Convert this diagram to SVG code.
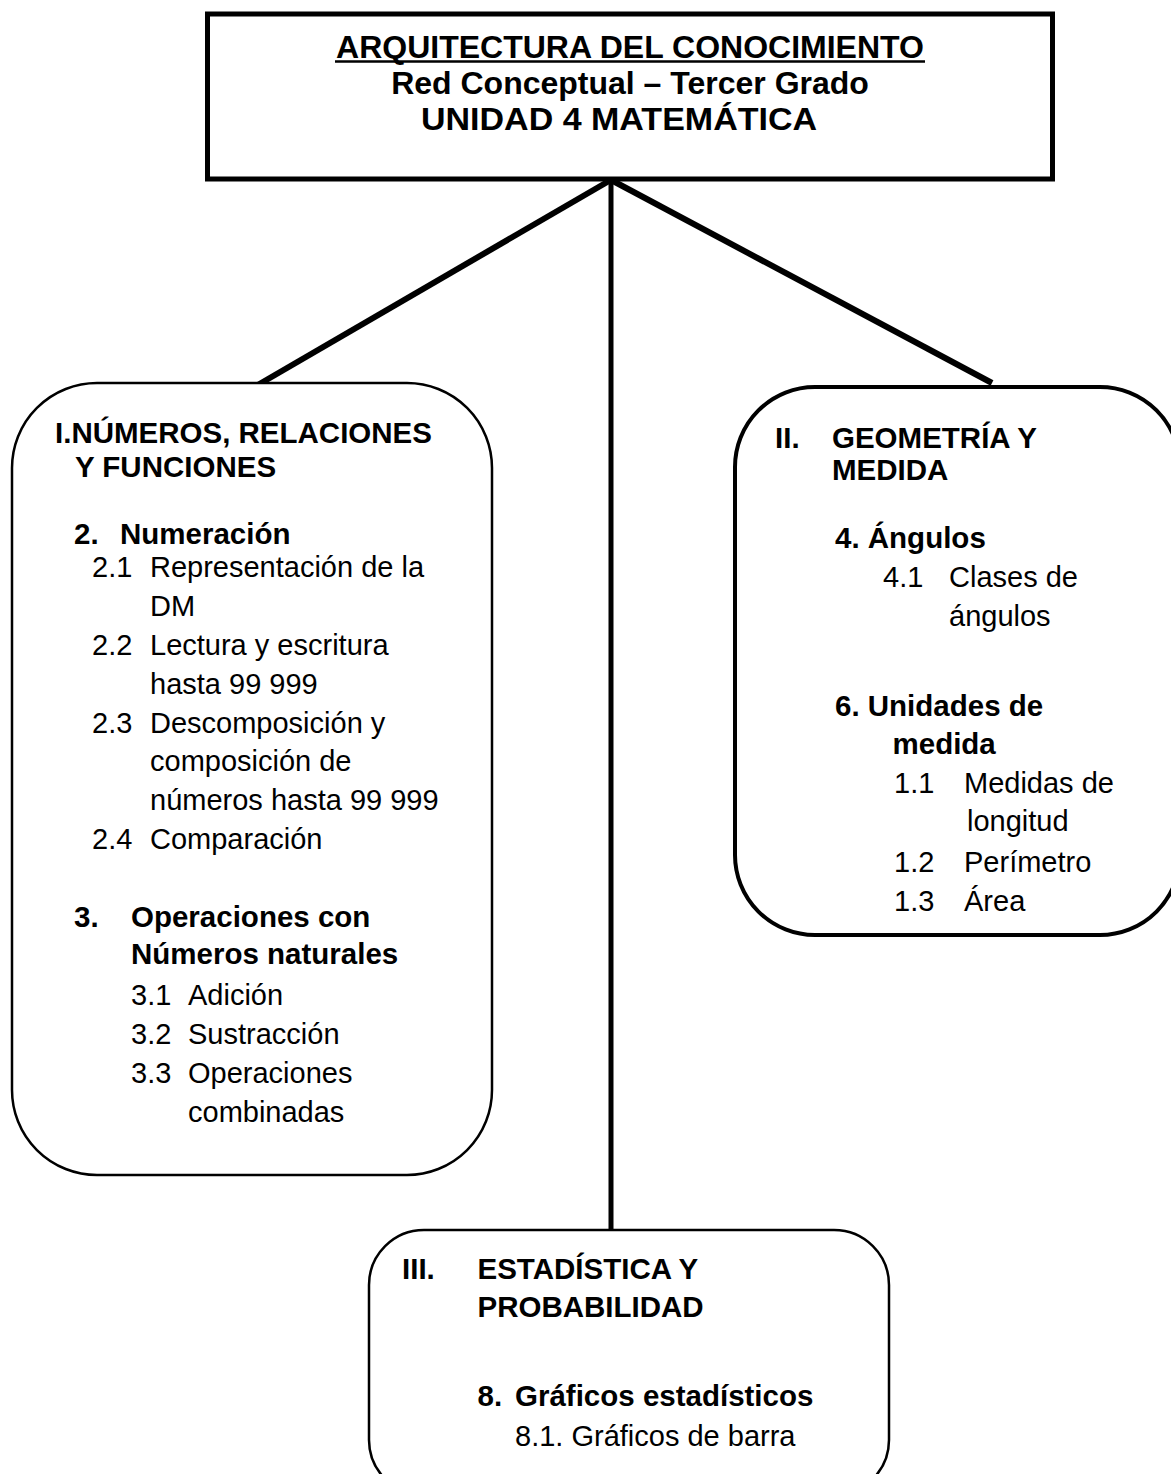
<svg xmlns="http://www.w3.org/2000/svg" width="1171" height="1474" viewBox="0 0 1171 1474">
<style>
text{font-family:"Liberation Sans",Arial,sans-serif;fill:#000}
.t{font-size:32px;font-weight:bold;text-anchor:middle}
.b{font-size:29.5px;font-weight:bold}
.n{font-size:29px}
.box{fill:#fff;stroke:#000}
.con{stroke:#000;fill:none}
</style>
<rect width="1171" height="1474" fill="#fff"/>
<g id="connectors">
<line class="con" x1="611" y1="179" x2="611" y2="1230" stroke-width="5"/>
<line class="con" x1="609" y1="181" x2="256" y2="386" stroke-width="6"/>
<line class="con" x1="613" y1="181" x2="992" y2="383" stroke-width="6"/>
</g>
<g id="root">
<rect class="box" x="207.5" y="14" width="845" height="165" stroke-width="5"/>
<text class="t" x="630" y="57.5">ARQUITECTURA DEL CONOCIMIENTO</text>
<line x1="335" y1="61.5" x2="925" y2="61.5" stroke="#000" stroke-width="2.5"/>
<text class="t" x="630" y="93.5">Red Conceptual – Tercer Grado</text>
<text class="t" x="619" y="129.5" textLength="396" lengthAdjust="spacingAndGlyphs">UNIDAD 4 MATEMÁTICA</text>
</g>
<g id="numeros">
<rect class="box" x="12" y="383" width="480" height="792" rx="85" ry="85" stroke-width="2.5"/>
<text class="b" x="55" y="443">I.NÚMEROS, RELACIONES</text>
<text class="b" x="75" y="477">Y FUNCIONES</text>
<text class="b" x="74" y="544">2.</text>
<text class="b" x="120" y="544">Numeración</text>
<text class="n" x="92" y="577">2.1</text>
<text class="n" x="150" y="577">Representación de la</text>
<text class="n" x="150" y="616">DM</text>
<text class="n" x="92" y="655">2.2</text>
<text class="n" x="150" y="655">Lectura y escritura</text>
<text class="n" x="150" y="694">hasta 99 999</text>
<text class="n" x="92" y="732.5">2.3</text>
<text class="n" x="150" y="732.5">Descomposición y</text>
<text class="n" x="150" y="771">composición de</text>
<text class="n" x="150" y="810">números hasta 99 999</text>
<text class="n" x="92" y="849">2.4</text>
<text class="n" x="150" y="849">Comparación</text>
<text class="b" x="74" y="927">3.</text>
<text class="b" x="131" y="927">Operaciones con</text>
<text class="b" x="131" y="964">Números naturales</text>
<text class="n" x="131" y="1005">3.1</text>
<text class="n" x="188" y="1005">Adición</text>
<text class="n" x="131" y="1044">3.2</text>
<text class="n" x="188" y="1044">Sustracción</text>
<text class="n" x="131" y="1083">3.3</text>
<text class="n" x="188" y="1083">Operaciones</text>
<text class="n" x="188" y="1121.5">combinadas</text>
</g>
<g id="geometria">
<rect class="box" x="735" y="387" width="445" height="548" rx="80" ry="80" stroke-width="4"/>
<text class="b" x="775" y="448">II.</text>
<text class="b" x="832" y="448">GEOMETRÍA Y</text>
<text class="b" x="832" y="480">MEDIDA</text>
<text class="b" x="835" y="548">4. Ángulos</text>
<text class="n" x="883" y="587">4.1</text>
<text class="n" x="949" y="587">Clases de</text>
<text class="n" x="949" y="626">ángulos</text>
<text class="b" x="835" y="715.5">6. Unidades de</text>
<text class="b" x="892.5" y="754">medida</text>
<text class="n" x="894" y="793">1.1</text>
<text class="n" x="964" y="793">Medidas de</text>
<text class="n" x="967" y="831">longitud</text>
<text class="n" x="894" y="872">1.2</text>
<text class="n" x="964" y="872">Perímetro</text>
<text class="n" x="894" y="910.5">1.3</text>
<text class="n" x="964" y="910.5">Área</text>
</g>
<g id="estadistica">
<rect class="box" x="369" y="1230" width="520" height="265" rx="55" ry="55" stroke-width="2.5"/>
<text class="b" x="402" y="1278.5">III.</text>
<text class="b" x="477.5" y="1278.5">ESTADÍSTICA Y</text>
<text class="b" x="477.5" y="1317">PROBABILIDAD</text>
<text class="b" x="477.5" y="1406">8.</text>
<text class="b" x="515" y="1406">Gráficos estadísticos</text>
<text class="n" x="515" y="1446">8.1. Gráficos de barra</text>
</g>
</svg>
